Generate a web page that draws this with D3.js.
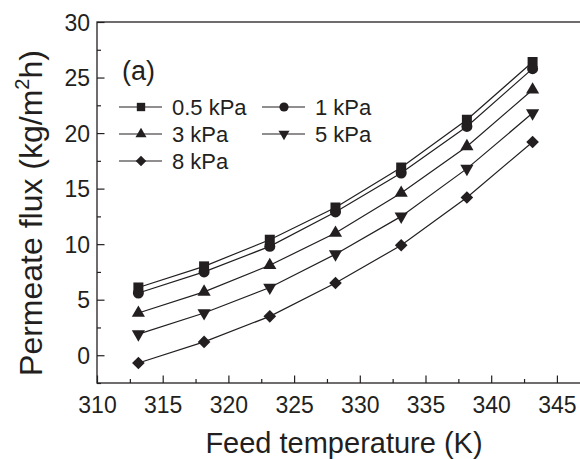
<!DOCTYPE html>
<html>
<head>
<meta charset="utf-8">
<script src="https://cdn.jsdelivr.net/npm/d3@7"></script>
<style>
  body { margin: 0; background: #fff; }
  svg { display: block; font-family: "Liberation Sans", Arial, sans-serif; }
</style>
</head>
<body>
<div id="chart"></div>
<script>
// data
const temps = [313.15, 318.15, 323.15, 328.15, 333.15, 338.15, 343.15]
const flux05 = [6.1, 8.0, 10.4, 13.3, 16.9, 21.2, 26.4]
const flux1 = [5.6, 7.5, 9.8, 12.9, 16.4, 20.6, 25.8]
const flux3 = [3.8, 5.7, 8.1, 11.0, 14.6, 18.8, 23.9]
const flux5 = [1.9, 3.8, 6.1, 9.1, 12.5, 16.8, 21.8]
const flux8 = [-0.7, 1.2, 3.5, 6.5, 9.9, 14.2, 19.2]
const seriesNames = ["0.5 kPa", "1 kPa", "3 kPa", "5 kPa", "8 kPa"]
const xTicks = [310, 315, 320, 325, 330, 335, 340, 345]
const yTicks = [0, 5, 10, 15, 20, 25, 30]

// rot: degrees applied to the symbol (diamond = square turned 45)
const series = [
  { name: seriesNames[0], values: flux05, sym: d3.symbolSquare, size: 100, rot: 0 },
  { name: seriesNames[1], values: flux1, sym: d3.symbolCircle, size: 95, rot: 0 },
  { name: seriesNames[2], values: flux3, sym: d3.symbolTriangle, size: 75, rot: 0 },
  { name: seriesNames[3], values: flux5, sym: d3.symbolTriangle, size: 75, rot: 180 },
  { name: seriesNames[4], values: flux8, sym: d3.symbolSquare, size: 80, rot: 45 }
]

const width = 580, height = 459
const padLeft = 97, padTop = 22, padBottom = 383
const ink = "#231f20"

const svg = d3.select("#chart").append("svg")
  .attr("width", width).attr("height", height)

// x range runs past the right edge like the cropped original
const x = d3.scaleLinear().domain([310, 350]).range([padLeft, padLeft + 40 * 13.14])
const y = d3.scaleLinear().domain([-2.5, 30]).range([padBottom, padTop])

// frame
svg.append("rect")
  .attr("x", padLeft).attr("y", padTop)
  .attr("width", x(350) - padLeft).attr("height", padBottom - padTop)
  .attr("fill", "none").attr("stroke", ink).attr("stroke-width", 1.3)

// x axis, inward ticks
const xAxis = svg.append("g").attr("transform", `translate(0,${padBottom})`)
  .call(d3.axisBottom(x).tickValues(d3.range(310, 350.1, 2.5)).tickSizeInner(-7).tickSizeOuter(0)
    .tickFormat(d => xTicks.includes(d) ? d : ""))
xAxis.select(".domain").remove()
xAxis.selectAll(".tick line").attr("stroke", ink).attr("stroke-width", 1.2)
  .attr("y2", d => xTicks.includes(d) ? -7.5 : -4)
xAxis.selectAll(".tick text").attr("y", 30).attr("dy", null)
  .attr("font-size", 23).attr("fill", ink).attr("font-family", "Liberation Sans, Arial, sans-serif")

// y axis, inward ticks
const yAxis = svg.append("g").attr("transform", `translate(${padLeft},0)`)
  .call(d3.axisLeft(y).tickValues(d3.range(-2.5, 30.1, 2.5)).tickSizeInner(-7).tickSizeOuter(0)
    .tickFormat(d => yTicks.includes(d) ? d : ""))
yAxis.select(".domain").remove()
yAxis.selectAll(".tick line").attr("stroke", ink).attr("stroke-width", 1.2)
  .attr("x2", d => yTicks.includes(d) ? 7.5 : 4)
yAxis.selectAll(".tick text").attr("x", -7).attr("dy", "0.36em")
  .attr("font-size", 23).attr("fill", ink).attr("font-family", "Liberation Sans, Arial, sans-serif")

// axis titles
svg.append("text")
  .attr("x", 344).attr("y", 453)
  .attr("text-anchor", "middle").attr("font-size", 29).attr("fill", ink)
  .text("Feed temperature (K)")

const yTitle = svg.append("text")
  .attr("transform", `translate(42,213) rotate(-90)`)
  .attr("text-anchor", "middle").attr("font-size", 32).attr("fill", ink)
yTitle.append("tspan").text("Permeate flux (kg/m")
yTitle.append("tspan").attr("font-size", 20).attr("dy", -13).text("2")
yTitle.append("tspan").attr("dy", 13).text("h)")

const line = d3.line().x((d, i) => x(temps[i])).y(d => y(d))

function marker(g, s, cx, cy, size) {
  g.append("path")
    .attr("d", d3.symbol().type(s.sym).size(size)())
    .attr("transform", `translate(${cx},${cy}) rotate(${s.rot})`)
    .attr("fill", ink)
}

series.forEach(s => {
  svg.append("path")
    .attr("d", line(s.values))
    .attr("fill", "none").attr("stroke", ink).attr("stroke-width", 1.2)
  const g = svg.append("g")
  s.values.forEach((v, i) => marker(g, s, x(temps[i]), y(v), s.size))
})

// panel label
svg.append("text").attr("x", 122).attr("y", 80)
  .attr("font-size", 27).attr("fill", ink).text("(a)")

// legend
const legPos = [[119, 107], [262, 107], [119, 134], [262, 134], [119, 161]]
series.forEach((s, i) => {
  const [lx, ly] = legPos[i]
  const g = svg.append("g")
  g.append("line").attr("x1", lx).attr("x2", lx + 43).attr("y1", ly).attr("y2", ly)
    .attr("stroke", ink).attr("stroke-width", 1.2)
  marker(g, s, lx + 22, ly, s.size * 0.7)
  g.append("text").attr("x", lx + 53).attr("y", ly + 8)
    .attr("font-size", 22).attr("fill", ink).text(s.name)
})
</script>
</body>
</html>
